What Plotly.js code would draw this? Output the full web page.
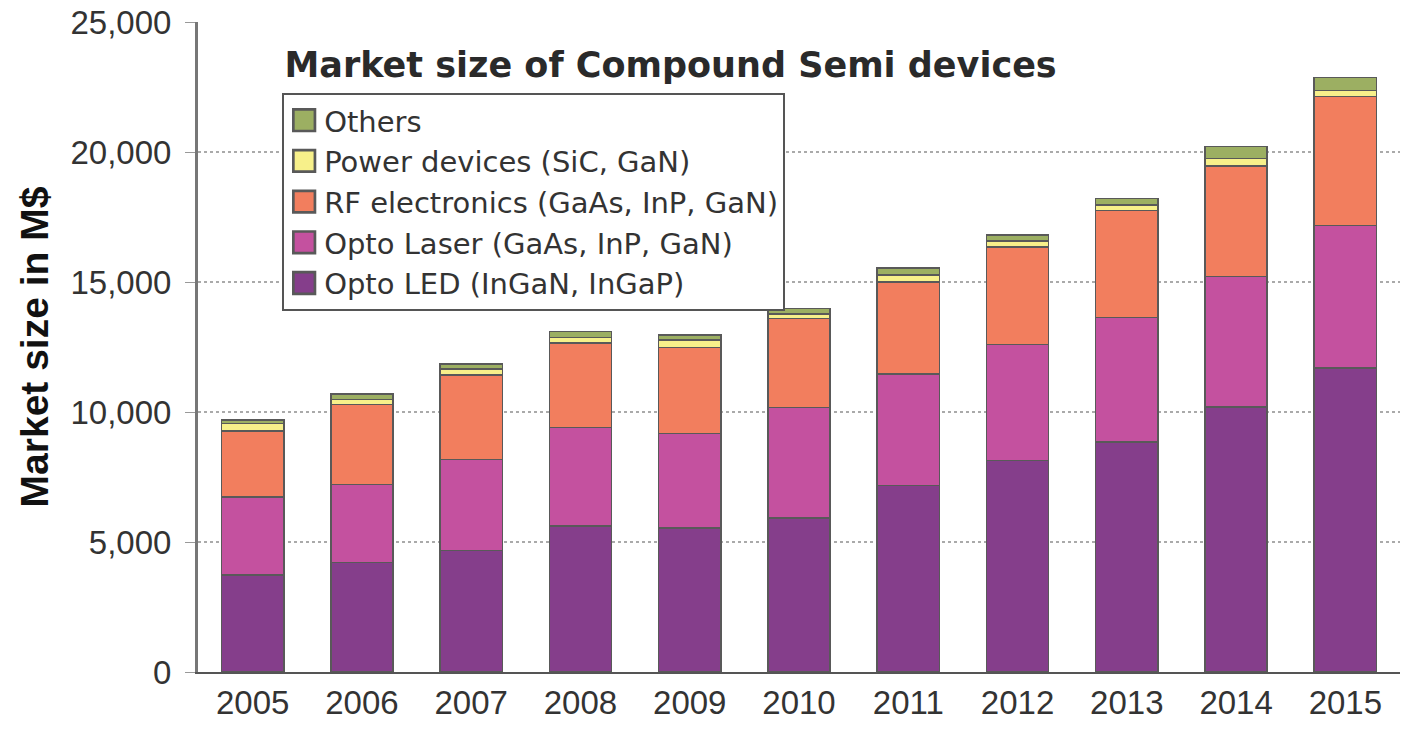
<!DOCTYPE html>
<html>
<head>
<meta charset="utf-8">
<script src="https://cdn.plot.ly/plotly-3.0.1.min.js"></script>
<style>html,body{margin:0;padding:0;background:#fff;}#chart{width:1416px;height:736px;}</style>
</head>
<body>
<div id="chart"></div>
<script>
const years = ['2005','2006','2007','2008','2009','2010','2011','2012','2013','2014','2015'];
const optoLED   = [3730, 4210, 4670, 5620, 5540, 5920, 7180, 8130, 8850, 10200, 11700];
const optoLaser = [3000, 3010, 3500, 3790, 3630, 4260, 4290, 4470, 4780, 5020, 5470];
const rfElec    = [2540, 3060, 3250, 3240, 3320, 3410, 3530, 3740, 4120, 4250, 4970];
const powerDev  = [280, 210, 240, 220, 270, 170, 260, 240, 220, 280, 230];
const others    = [150, 210, 180, 230, 210, 230, 280, 220, 250, 460, 490];

const seriesNames = ['Opto LED (InGaN, InGaP)', 'Opto Laser (GaAs, InP, GaN)', 'RF electronics (GaAs, InP, GaN)', 'Power devices (SiC, GaN)', 'Others'];
const seriesData = [optoLED, optoLaser, rfElec, powerDev, others];
const seriesColors = ['#853E8B', '#C4519F', '#F27E5E', '#F7F08A', '#9CAF62'];

const traces = seriesData.map((d, i) => ({
  type: 'bar',
  x: years,
  y: d,
  name: seriesNames[i],
  legendgroup: 'g' + i,
  legendrank: 5 - i,
  marker: {color: seriesColors[i], line: {color: '#595959', width: 1.5}},
  hoverinfo: 'x+y+name'
}));

const layout = {
  width: 1416, height: 736,
  barmode: 'stack',
  bargap: 0.43,
  paper_bgcolor: '#fff', plot_bgcolor: '#fff',
  margin: {l: 198, r: 16, t: 22, b: 64},
  font: {family: 'Liberation Sans, Arial, sans-serif', color: '#333'},
  title: {
    text: 'Market size of Compound Semi devices',
    font: {size: 35, weight: 700, color: '#2a2a2a', family: 'DejaVu Sans, Liberation Sans, Arial, sans-serif'},
    xref: 'paper', x: 0.072, xanchor: 'left',
    yref: 'container', y: 0.912, yanchor: 'middle'
  },
  xaxis: {
    type: 'category',
    tickfont: {size: 33, color: '#333'},
    showline: true, linecolor: '#555', linewidth: 2,
    ticks: '', showgrid: false
  },
  yaxis: {
    range: [0, 25000],
    tickvals: [0, 5000, 10000, 15000, 20000, 25000],
    ticktext: ['0', '5,000', '10,000', '15,000', '20,000', '25,000'],
    tickfont: {size: 33, color: '#333'},
    ticklabelstandoff: 7,
    showline: true, linecolor: '#777', linewidth: 3,
    ticks: 'outside', ticklen: 10, tickcolor: '#999', tickwidth: 1,
    showgrid: true, gridcolor: '#aaa', griddash: 'dot', gridwidth: 1.5,
    zeroline: false,
    title: {
      text: 'Market size in M$',
      font: {size: 39, weight: 700, color: '#111', family: 'Liberation Sans, Arial, sans-serif'},
      standoff: 10
    }
  },
  legend: {
    x: 0.07, xanchor: 'left', y: 0.891, yanchor: 'top',
    traceorder: 'grouped',
    tracegroupgap: 0,
    bgcolor: '#fff', bordercolor: '#555', borderwidth: 2,
    font: {size: 29, color: '#333', family: 'DejaVu Sans, Liberation Sans, Arial, sans-serif'}
  },
  showlegend: true
};

Plotly.newPlot('chart', traces, layout, {displayModeBar: false, staticPlot: true}).then(() => {
  document.querySelectorAll('.legend .legendpoints path').forEach(p => {
    const t = p.getAttribute('transform') || '';
    p.setAttribute('transform', t + ' scale(1.8)');
  });
});
</script>
</body>
</html>
